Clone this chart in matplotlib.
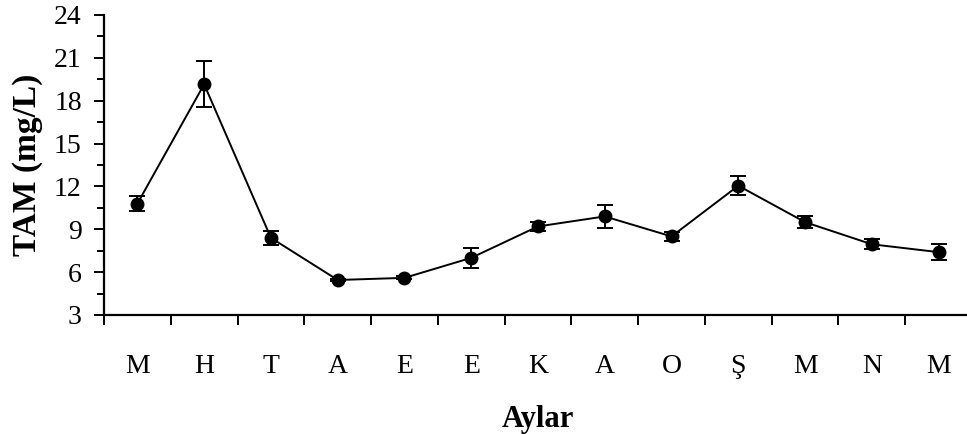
import matplotlib
matplotlib.use("Agg")
import matplotlib.pyplot as plt
import numpy as np

months = ["M", "H", "T", "A", "E", "E", "K", "A", "O", "Ş", "M", "N", "M"]
tam = [10.8, 19.15, 8.4, 5.45, 5.6, 7.0, 9.2, 9.9, 8.5, 12.05, 9.5, 7.95, 7.4]
err = [0.5, 1.6, 0.5, 0.1, 0.1, 0.7, 0.3, 0.8, 0.3, 0.65, 0.43, 0.35, 0.55]

plt.rcParams["font.family"] = ["Liberation Serif", "DejaVu Serif"]

fig = plt.figure(figsize=(9.67, 4.34), dpi=100)
ax = fig.add_axes([104/967, 1 - 315/434, (972 - 104)/967, 300/434])

x = np.arange(len(months))
ax.errorbar(x, tam, yerr=err, color="black", marker="o", markersize=9,
            linewidth=1.4, elinewidth=1.4, capsize=6, capthick=1.4)

ax.set_xlim(-0.5, len(months) - 0.5)
ax.set_ylim(3, 24)
ax.set_yticks(np.arange(3, 25, 3))
ax.set_yticks(np.arange(3, 24.1, 1.5), minor=True)
ax.tick_params(axis="y", which="major", length=7, width=1.4, labelsize=20, pad=9)
ax.tick_params(axis="y", which="minor", length=5, width=1.4)

ax.set_xticks(np.arange(-0.5, len(months), 1))
ax.set_xticklabels([])
ax.set_xticks(x, minor=True)
ax.set_xticklabels(months, minor=True)
ax.tick_params(axis="x", which="major", length=7, width=1.4)
ax.tick_params(axis="x", which="minor", length=0, labelsize=20, pad=28)

for s in ["top", "right"]:
    ax.spines[s].set_visible(False)
ax.spines["left"].set_linewidth(1.6)
ax.spines["bottom"].set_linewidth(1.6)

ax.set_xlabel("Aylar", fontsize=22, fontweight="bold", labelpad=19)
ax.set_ylabel("TAM (mg/L)", fontsize=24, fontweight="bold", labelpad=8)

fig.savefig("out.png", dpi=100)
